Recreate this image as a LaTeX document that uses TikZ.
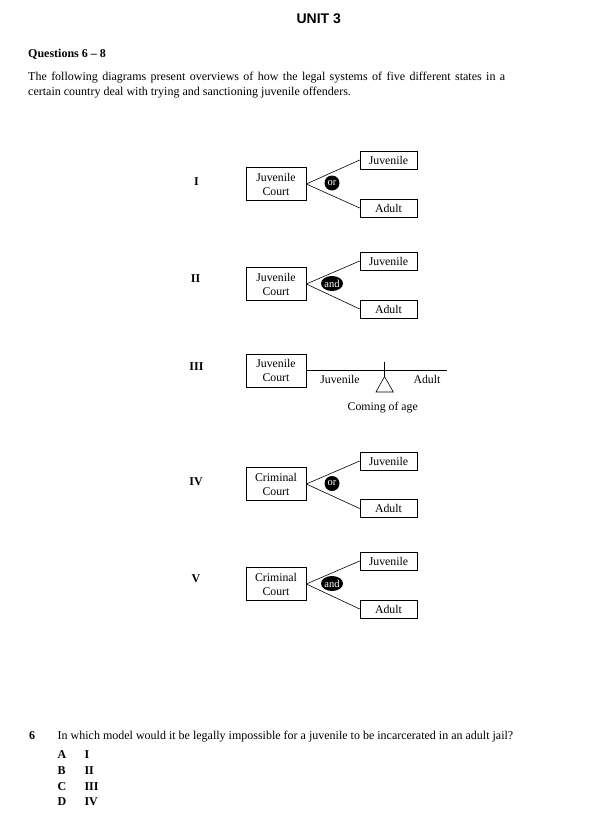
\documentclass[tikz,border=0pt]{standalone}
\usepackage{fontspec}
\setmainfont{Liberation Serif}
\newfontfamily\headsans{Liberation Sans}
\usetikzlibrary{shapes.geometric}
\tikzset{
  body/.style={inner sep=0pt, font=\fontsize{12}{14}\selectfont},
  boldtxt/.style={inner sep=0pt, font=\fontsize{12}{14}\selectfont\bfseries},
  court/.style={draw, line width=0.6pt, minimum width=60pt, minimum height=33pt, inner sep=0pt, align=center, font=\fontsize{11.8}{14}\selectfont},
  outbox/.style={draw, line width=0.6pt, minimum width=57pt, minimum height=18pt, inner sep=0pt, font=\fontsize{11.8}{14}\selectfont},
  orcirc/.style={circle, fill=black, text=white, minimum size=15pt, inner sep=0pt, font=\fontsize{10.5}{12}\selectfont},
  andell/.style={ellipse, fill=black, text=white, minimum width=22pt, minimum height=15pt, inner sep=0pt, font=\fontsize{10.5}{12}\selectfont},
  conn/.style={line width=0.6pt},
  dlabel/.style={inner sep=0pt, font=\fontsize{12}{14}\selectfont\bfseries, anchor=base},
  plain/.style={inner sep=0pt, font=\fontsize{11.8}{14}\selectfont}
}
\begin{document}
\begin{tikzpicture}[x=1pt,y=-1pt]
\useasboundingbox (0,0) rectangle (615,816);
% header
\node[inner sep=0pt, anchor=base, font=\headsans\fontsize{14}{16}\selectfont\bfseries] (unit) at (318.7,23.3) {UNIT 3};
\node[boldtxt, anchor=base west] (qs) at (28,57.5) {Questions 6 -- 8};
\node[body, anchor=base west] (p1) at (28,80) {\makebox[477pt][s]{The following diagrams present overviews of how the legal systems of five different states in a}};
\node[body, anchor=base west] (p2) at (28,95.3) {certain country deal with trying and sanctioning juvenile offenders.};

% I
\node[dlabel] (l1) at (196.5,185) {I};
\node[court] (c1) at (276,184) {Juvenile\\Court};
\node[outbox] (j1) at (388.5,160) {Juvenile};
\node[outbox] (a1) at (388.5,208) {Adult};
\draw[conn] (c1.east) -- (j1.west);
\draw[conn] (c1.east) -- (a1.west);
\node[orcirc] (o1) at (332,183) {or};

% II
\node[dlabel] (l2) at (195.5,282.7) {II};
\node[court] (c2) at (276,284) {Juvenile\\Court};
\node[outbox] (j2) at (388.5,261) {Juvenile};
\node[outbox] (a2) at (388.5,309) {Adult};
\draw[conn] (c2.east) -- (j2.west);
\draw[conn] (c2.east) -- (a2.west);
\node[andell] (o2) at (332,283.5) {and};

% III
\node[dlabel] (l3) at (196.5,370) {III};
\node[court] (c3) at (276,370.5) {Juvenile\\Court};
\coordinate (e3) at (447,370.5);
\draw[conn] (c3.east) -- (e3);
\coordinate (t3) at (384.5,361.5);
\coordinate (ap3) at (384.5,376.5);
\draw[conn] (t3) -- (ap3);
\draw[conn] (ap3) -- (376,392) -- (393.3,392) -- cycle;
\node[plain] (jv3) at (340,379.5) {Juvenile};
\node[plain] (ad3) at (427,379.5) {Adult};
\node[plain] (ca3) at (382.7,407.5) {Coming of age};

% IV
\node[dlabel] (l4) at (196,485.7) {IV};
\node[court] (c4) at (276,484) {Criminal\\Court};
\node[outbox] (j4) at (388.5,461) {Juvenile};
\node[outbox] (a4) at (388.5,508.5) {Adult};
\draw[conn] (c4.east) -- (j4.west);
\draw[conn] (c4.east) -- (a4.west);
\node[orcirc] (o4) at (332,483.5) {or};

% V
\node[dlabel] (l5) at (196,582.7) {V};
\node[court] (c5) at (276,584) {Criminal\\Court};
\node[outbox] (j5) at (388.5,561) {Juvenile};
\node[outbox] (a5) at (388.5,609) {Adult};
\draw[conn] (c5.east) -- (j5.west);
\draw[conn] (c5.east) -- (a5.west);
\node[andell] (o5) at (332,583.5) {and};

% question
\node[boldtxt, anchor=base west] (q6) at (29,739.7) {6};
\node[body, anchor=base west] (q6t) at (57.5,739.7) {In which model would it be legally impossible for a juvenile to be incarcerated in an adult jail?};
\node[boldtxt, anchor=base west] (oa) at (57.3,758.3) {A};
\node[boldtxt, anchor=base west] (ob) at (57.3,774.3) {B};
\node[boldtxt, anchor=base west] (oc) at (57.3,790) {C};
\node[boldtxt, anchor=base west] (od) at (57.3,805.7) {D};
\node[boldtxt, anchor=base west] (va) at (84.3,758.3) {I};
\node[boldtxt, anchor=base west] (vb) at (84.3,774.3) {II};
\node[boldtxt, anchor=base west] (vc) at (84.3,790) {III};
\node[boldtxt, anchor=base west] (vd) at (84.3,805.7) {IV};
\end{tikzpicture}
\end{document}
